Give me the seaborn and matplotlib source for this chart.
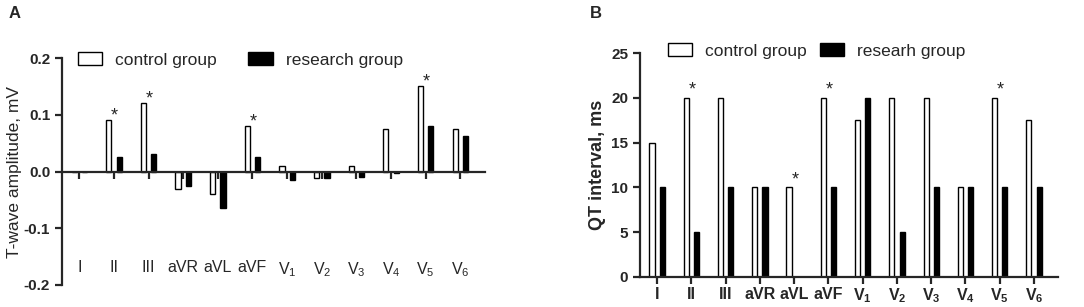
import numpy as np
import pandas as pd
import seaborn as sns
import matplotlib.pyplot as plt
from matplotlib.patches import Patch

leads = ['I', 'II', 'III', 'aVR', 'aVL', 'aVF', 'V1', 'V2', 'V3', 'V4', 'V5', 'V6']
lead_labels = ['I', 'II', 'III', 'aVR', 'aVL', 'aVF',
               'V$_1$', 'V$_2$', 'V$_3$', 'V$_4$', 'V$_5$', 'V$_6$']
lead_labels_bold = ['I', 'II', 'III', 'aVR', 'aVL', 'aVF',
                    r'V$_\mathbf{1}$', r'V$_\mathbf{2}$', r'V$_\mathbf{3}$',
                    r'V$_\mathbf{4}$', r'V$_\mathbf{5}$', r'V$_\mathbf{6}$']

# panel A: T-wave amplitude, mV
twave_control = [0.0, 0.09, 0.12, -0.03, -0.04, 0.08, 0.01, -0.012, 0.01, 0.075, 0.15, 0.075]
twave_research = [0.0, 0.025, 0.03, -0.025, -0.065, 0.025, -0.015, -0.012, -0.01, -0.002, 0.08, 0.062]
twave_stars = ['II', 'III', 'aVF', 'V5']

# panel B: QT interval, ms
qt_control = [15, 20, 20, 10, 10, 20, 17.5, 20, 20, 10, 20, 17.5]
qt_research = [10, 5, 10, 10, 0, 10, 20, 5, 10, 10, 10, 10]
qt_stars = ['II', 'aVL', 'aVF', 'V5']

sns.set_style('ticks')
plt.rcParams['font.family'] = ['Liberation Sans', 'DejaVu Sans']
plt.rcParams['mathtext.fontset'] = 'custom'
plt.rcParams['mathtext.rm'] = 'Liberation Sans'
plt.rcParams['mathtext.bf'] = 'Liberation Sans:bold'


def long_df(ctrl, res, ctrl_name, res_name):
    return pd.DataFrame({
        'lead': leads * 2,
        'value': ctrl + res,
        'group': [ctrl_name] * len(leads) + [res_name] * len(leads),
    })


def draw(ax, df, names, stars, ctrl, star_off):
    sns.barplot(data=df, x='lead', y='value', hue='group', order=leads,
                hue_order=names, palette={names[0]: 'white', names[1]: 'black'},
                edgecolor='black', linewidth=1, width=0.6, gap=0.5,
                errorbar=None, legend=False, ax=ax)
    for s in stars:
        i = leads.index(s)
        ax.text(i + 0.02, ctrl[i] + star_off, '*', ha='center', va='bottom', fontsize=13)
    sns.despine(ax=ax)
    ax.spines['left'].set_linewidth(1.6)
    ax.spines['bottom'].set_linewidth(1.6)
    ax.set_xlabel('')
    ax.set_xlim(-0.5, 11.7)


fig = plt.figure(figsize=(10.84, 3.07), dpi=100)
axA = fig.add_axes([0.0572, 0.0717, 0.3898, 0.7393])
axB = fig.add_axes([0.5904, 0.098, 0.3856, 0.729])

# ---- A
namesA = ['control group', 'research group']
dfA = long_df(twave_control, twave_research, *namesA)
draw(axA, dfA, namesA, twave_stars, twave_control, -0.008)
axA.set_ylim(-0.2, 0.2)
axA.set_yticks([-0.2, -0.1, 0.0, 0.1, 0.2])
axA.set_yticklabels(['-0.2', '-0.1', '0.0', '0.1', '0.2'], fontweight='bold', fontsize=11)
axA.spines['bottom'].set_position(('data', 0))
axA.set_xticks(range(len(leads)))
axA.set_xticklabels(lead_labels, fontsize=11.5)
axA.tick_params(axis='x', length=5, width=1.6, pad=59)
axA.tick_params(axis='y', length=5, width=1.6)
axA.set_ylabel('T-wave amplitude, mV', fontsize=12.5, labelpad=1)
fig.text(0.008, 0.955, 'A', fontsize=12, fontweight='bold', va='center')

# ---- B
namesB = ['control group', 'researh group']
dfB = long_df(qt_control, qt_research, *namesB)
draw(axB, dfB, namesB, qt_stars, qt_control, -0.1)
axB.set_ylim(0, 25)
axB.set_yticks([0, 5, 10, 15, 20, 25])
axB.set_yticklabels(['0', '5', '10', '15', '20', '25'], fontweight='bold', fontsize=11)
axB.set_xticks(range(len(leads)))
axB.set_xticklabels(lead_labels_bold, fontsize=11.5, fontweight='bold')
axB.tick_params(axis='x', length=5, width=1.6, pad=2)
axB.tick_params(axis='y', length=5, width=1.6)
axB.set_ylabel('QT interval, ms', fontsize=13, fontweight='bold', labelpad=4)
fig.text(0.544, 0.955, 'B', fontsize=12, fontweight='bold', va='center')

# legends
for ax, names, x0, y0, colsp in [(axA, namesA, 78, 60, 1.8), (axB, namesB, 668, 51, 0.75)]:
    handles = [Patch(facecolor='white', edgecolor='black', linewidth=1),
               Patch(facecolor='black', edgecolor='black', linewidth=1)]
    ax.legend(handles, names, ncol=2, frameon=False, fontsize=12.5,
              loc='center left', bbox_to_anchor=(x0 / 1084, 1 - y0 / 307),
              bbox_transform=fig.transFigure, borderpad=0, borderaxespad=0,
              handlelength=1.4, handleheight=0.7, handletextpad=0.75,
              columnspacing=colsp)

fig.savefig('out.png', dpi=100)
